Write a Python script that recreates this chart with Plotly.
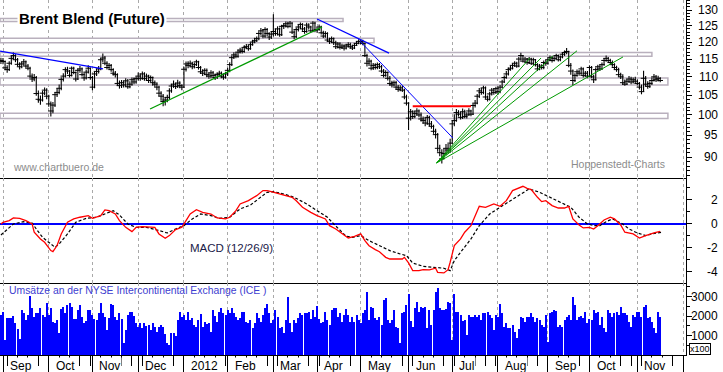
import math
import plotly.graph_objects as go
from plotly.subplots import make_subplots

# ---------------- data (trading-day index: 0 = 1 Sep 2011) ----------------
month_idx = [0, 22, 43, 65, 87, 108, 130, 151, 172, 195, 216, 238, 262, 282, 305, 327]
month_lbl = ['Sep', 'Oct', 'Nov', 'Dec', '2012', 'Feb', 'Mar', 'Apr', 'May', 'Jun',
             'Jul', 'Aug', 'Sep', 'Oct', 'Nov']
first_day = -1

close = [
    # Aug/Sep 2011
    114.6, 114.3, 112.5, 112.0, 113.8, 115.2, 116.0, 114.8, 113.5, 112.8, 113.6, 114.2,
    113.0, 112.4, 110.2, 109.4, 109.8, 105.5, 104.0, 103.8, 105.6, 106.4, 104.8,
    # Oct
    102.8, 101.0, 102.5, 105.2, 105.8, 106.9, 109.3, 110.2, 112.0, 111.6, 110.4, 112.4,
    111.2, 109.4, 111.8, 112.2, 110.6, 109.7, 111.3, 112.4, 109.8,
    # Nov
    107.2, 110.8, 111.5, 112.2, 114.8, 115.3, 113.8, 112.6, 113.2, 112.0, 111.0, 110.6,
    108.2, 107.6, 108.4, 107.8, 108.9, 107.3, 108.0, 109.2, 108.6, 109.5,
    # Dec
    110.2, 109.6, 110.8, 109.5, 110.2, 109.0, 109.8, 108.4, 108.0, 107.2, 105.6, 104.8,
    103.4, 103.8, 104.5, 106.2, 107.5, 108.0, 107.4, 108.3, 107.6, 107.2,
    # Jan 2012
    112.1, 113.6, 113.2, 113.8, 112.8, 113.4, 114.2, 112.6, 111.4, 111.0, 111.8, 110.6,
    110.2, 111.1, 110.4, 109.8, 110.6, 111.0, 110.2, 109.9, 110.8,
    # Feb
    111.8, 113.4, 115.4, 116.2, 115.8, 117.0, 117.6, 117.2, 118.4, 118.6, 118.0, 119.2,
    120.0, 120.4, 121.0, 122.6, 123.4, 121.8, 123.8, 122.6, 121.5, 122.4,
    # Mar
    123.2, 122.6, 124.0, 122.2, 124.8, 125.0, 125.6, 124.8, 125.8, 123.0, 121.6, 123.8,
    124.6, 125.4, 124.0, 123.2, 125.2, 124.6, 123.4, 125.8, 123.6,
    # Apr
    123.8, 124.6, 122.8, 121.8, 122.6, 120.6, 120.2, 121.0, 119.8, 118.6, 119.4, 118.4,
    118.8, 118.2, 118.8, 119.2, 118.6, 118.2, 119.0, 119.6, 120.2,
    # May
    120.2, 119.6, 116.0, 113.8, 114.4, 112.4, 113.2, 112.6, 113.4, 112.8, 111.6, 110.4,
    111.2, 109.6, 108.2, 107.8, 108.4, 107.2, 106.6, 107.0, 106.4, 104.6, 103.0,
    # Jun
    99.2, 100.8, 99.6, 100.4, 101.0, 100.0, 99.0, 98.6, 98.0, 99.4, 97.8, 97.2,
    96.0, 95.2, 92.0, 91.0, 89.6, 90.8, 92.0, 91.6, 93.2,
    # Jul
    97.8, 98.6, 100.6, 100.2, 99.4, 100.8, 99.6, 100.0, 101.0, 100.2, 102.4, 103.0,
    104.8, 106.2, 105.8, 107.0, 104.6, 104.0, 105.4, 106.4, 105.8, 106.8,
    # Aug
    106.0, 107.2, 108.6, 109.8, 110.8, 112.0, 112.4, 113.2, 113.8, 113.0, 115.0, 116.0,
    114.4, 115.0, 114.0, 115.0, 113.8, 114.8, 113.4, 112.2, 113.0, 112.6, 114.0,
    # Sep
    113.8, 114.8, 115.4, 114.6, 115.2, 116.0, 114.8, 115.6, 116.4, 116.9, 117.2, 113.2,
    111.6, 109.0, 110.4, 111.4, 111.0, 112.2, 110.4, 111.0,
    # Oct
    110.2, 112.6, 110.0, 109.2, 112.0, 112.8, 112.2, 113.4, 114.6, 115.2, 114.6, 114.0,
    113.4, 112.6, 112.0, 110.6, 110.0, 108.4, 108.0, 108.8, 109.4, 108.6, 109.2,
    # Nov
    108.8, 108.2, 107.2, 106.0, 109.6, 108.0, 107.4, 108.2, 109.0, 110.0, 109.2, 109.6, 109.0,
]

high = [
    115.4, 115.3, 114.6, 113.2, 114.4, 115.9, 116.9, 116.4, 115.3, 114.1, 114.2, 115.0,
    114.6, 113.6, 112.8, 110.9, 110.8, 110.2, 106.3, 105.0, 106.2, 107.1, 106.9,
    105.2, 103.4, 103.3, 105.8, 106.9, 107.9, 109.9, 111.0, 112.7, 112.8, 111.9, 112.9,
    112.8, 111.5, 112.3, 113.0, 112.6, 111.2, 112.0, 113.2, 112.6,
    110.2, 111.4, 112.3, 113.0, 115.3, 116.6, 115.9, 114.4, 113.9, 113.6, 112.4, 111.6,
    111.0, 109.0, 109.1, 108.9, 109.6, 109.4, 108.8, 109.8, 109.8, 110.1,
    111.2, 110.9, 111.5, 111.3, 110.9, 110.6, 110.4, 110.1, 109.0, 108.5, 107.6, 106.1,
    105.4, 104.6, 105.2, 106.9, 108.1, 109.0, 108.4, 109.2, 108.8, 108.0,
    112.8, 114.3, 114.4, 114.6, 114.2, 114.0, 114.8, 114.5, 113.0, 112.1, 112.4, 112.3,
    111.2, 111.8, 111.6, 110.9, 111.2, 111.7, 111.5, 110.9, 111.4,
    112.5, 114.1, 116.0, 117.0, 116.9, 117.8, 118.3, 118.2, 119.0, 119.4, 119.1, 119.9,
    120.7, 121.3, 121.7, 123.3, 124.3, 123.9, 124.5, 124.3, 123.0, 123.1,
    128.6, 124.1, 124.8, 124.4, 125.3, 125.8, 126.3, 126.2, 126.5, 126.1, 123.6, 124.4,
    125.4, 126.0, 125.8, 124.6, 125.9, 125.8, 125.0, 126.4, 126.2,
    124.5, 125.4, 125.0, 123.4, 123.3, 123.0, 121.3, 121.7, 121.4, 120.4, 120.0, 119.9,
    119.5, 119.3, 119.5, 119.9, 119.8, 119.2, 119.7, 120.3, 120.8,
    120.8, 120.7, 119.8, 116.5, 115.2, 114.8, 113.9, 113.8, 114.0, 113.9, 113.3, 112.2,
    111.8, 111.5, 110.2, 108.9, 109.0, 108.9, 107.8, 107.7, 107.5, 106.8, 105.2,
    103.2, 101.5, 101.2, 101.0, 101.7, 101.4, 100.6, 99.6, 99.3, 100.0, 99.8, 98.5,
    97.6, 96.6, 95.6, 92.8, 91.8, 92.0, 93.0, 93.0, 94.2,
    98.6, 100.2, 101.5, 101.2, 100.8, 101.6, 101.3, 100.7, 101.7, 101.3, 102.9, 103.8,
    105.4, 107.0, 107.0, 107.6, 107.4, 105.0, 106.0, 107.0, 106.9, 107.3,
    107.4, 107.8, 109.2, 110.4, 111.6, 112.6, 113.1, 113.8, 114.4, 114.2, 115.6, 116.8,
    116.2, 115.6, 115.3, 115.6, 115.4, 115.4, 115.0, 113.8, 113.6, 113.5, 114.6,
    114.7, 115.3, 116.0, 115.8, 115.8, 116.5, 116.3, 116.0, 117.0, 117.5, 118.2, 117.4,
    113.9, 112.0, 111.0, 112.0, 111.9, 112.8, 112.6, 111.6,
    111.6, 113.2, 113.0, 110.6, 112.6, 113.4, 113.4, 114.0, 115.3, 116.0, 115.6, 115.1,
    114.6, 113.8, 113.1, 112.5, 111.1, 110.7, 109.3, 109.5, 110.2, 110.0, 109.8,
    110.0, 109.3, 108.6, 107.9, 111.7, 110.2, 108.8, 108.8, 109.8, 110.8, 110.5, 110.3, 109.9,
]

low = [
    113.6, 113.5, 111.8, 111.1, 111.6, 113.4, 114.8, 114.1, 112.9, 112.0, 112.4, 113.1,
    112.5, 111.8, 109.7, 108.6, 108.8, 104.9, 103.1, 102.6, 103.4, 105.1, 104.0,
    102.1, 99.6, 100.4, 102.0, 104.6, 105.3, 106.4, 108.7, 109.8, 110.8, 109.8, 110.1,
    110.7, 108.7, 109.1, 111.1, 110.1, 108.9, 109.3, 110.9, 109.2,
    106.4, 106.9, 110.2, 110.9, 111.8, 114.1, 113.2, 112.0, 112.0, 111.4, 110.4, 109.8,
    107.6, 106.8, 107.0, 107.1, 107.3, 106.8, 106.9, 107.6, 108.0, 108.1,
    109.0, 108.9, 109.2, 108.9, 108.9, 108.3, 108.6, 107.6, 107.3, 106.4, 104.8, 103.6,
    102.2, 102.4, 103.2, 104.0, 105.7, 107.0, 106.7, 107.0, 106.9, 106.4,
    107.0, 111.5, 112.4, 112.7, 112.1, 112.3, 113.0, 112.0, 110.8, 110.2, 110.5, 109.9,
    109.5, 109.6, 109.8, 109.1, 109.4, 110.1, 109.6, 109.2, 109.5,
    110.2, 111.3, 113.0, 115.0, 115.2, 115.4, 116.6, 116.6, 116.8, 117.9, 117.4, 117.7,
    118.9, 119.6, 120.0, 120.5, 122.1, 121.1, 121.2, 121.8, 120.6, 120.9,
    121.7, 121.9, 122.0, 121.6, 121.8, 124.0, 124.4, 124.2, 124.4, 122.4, 120.8, 121.2,
    123.2, 124.0, 123.4, 122.5, 122.8, 123.8, 122.8, 123.0, 123.0,
    122.8, 123.4, 122.3, 121.2, 121.3, 120.1, 119.4, 119.7, 119.1, 117.9, 118.1, 117.8,
    117.9, 117.5, 117.8, 118.4, 118.0, 117.6, 117.9, 118.8, 119.3,
    119.3, 119.0, 115.6, 112.9, 113.0, 111.8, 111.9, 112.0, 112.1, 112.2, 111.0, 109.8,
    110.0, 109.0, 107.6, 107.1, 107.4, 106.6, 106.0, 106.1, 105.9, 104.0, 102.4,
    96.3, 98.6, 99.0, 99.2, 99.8, 99.4, 98.4, 97.8, 97.2, 97.6, 97.2, 96.6,
    95.4, 94.3, 91.2, 90.2, 88.6, 89.6, 90.4, 90.8, 91.0,
    93.0, 97.2, 98.3, 99.6, 98.9, 99.0, 99.2, 99.1, 99.8, 99.7, 100.0, 101.9,
    102.7, 104.3, 105.2, 105.3, 104.1, 103.4, 103.7, 105.0, 105.2, 105.4,
    105.2, 105.6, 106.9, 108.3, 109.5, 110.4, 111.7, 112.0, 112.8, 112.5, 112.7, 114.6,
    114.0, 114.1, 113.4, 113.6, 113.3, 113.5, 112.9, 111.6, 111.8, 112.0, 112.1,
    113.1, 113.4, 114.4, 114.0, 114.3, 114.9, 114.3, 114.4, 115.2, 115.9, 116.4, 112.7,
    110.6, 107.8, 108.6, 110.0, 110.3, 110.6, 109.8, 110.0,
    109.6, 110.0, 109.6, 108.3, 109.0, 111.7, 111.6, 111.9, 113.1, 114.2, 114.0, 113.5,
    112.8, 112.0, 111.4, 110.0, 109.4, 107.8, 107.6, 107.8, 108.4, 108.0, 108.2,
    108.1, 107.7, 106.6, 105.3, 106.0, 107.5, 106.8, 107.0, 107.8, 108.7, 108.6, 108.7, 108.5,
]

volume = [
    2050, 2220, 770, 1880, 1880, 1880, 2020, 1630, 1320, 800,
    2310, 2140, 1800, 2050, 3030, 2400, 1970, 2140, 2140, 2400,
    2050, 1970, 2650, 2050, 2400, 1710, 1630, 1800, 1150, 2340,
    2480, 2140, 2570, 2650, 2480, 1850, 1850, 2310, 2570, 1970,
    1630, 1760, 2310, 2310, 2050, 1850, 1800, 2140, 2650, 2140,
    1970, 1280, 1880, 2600, 2570, 1970, 1800, 2140, 1830, 600,
    1280, 2050, 2220, 2220, 2000, 1630, 1450, 1630, 1370, 1630,
    1510, 1540, 1280, 1630, 1450, 1200, 1450, 1540, 1450, 1080,
    630, 510, 1150, 1110, 980, 1800, 2220, 1970, 2050, 1800,
    2220, 1800, 1880, 1540, 1450, 1800, 2100, 1450, 1710, 1590,
    1630, 1200, 2310, 2000, 1710, 2220, 2400, 2140, 2050, 2310,
    2140, 2400, 2140, 1970, 1800, 1880, 2220, 2190, 1710, 1630,
    1800, 1370, 1630, 2140, 1880, 1710, 2050, 2400, 2620, 2140,
    1630, 1800, 2310, 1970, 1370, 1450, 1150, 1800, 2990, 1630,
    1200, 1800, 1630, 1880, 2140, 2050, 2140, 2170, 2220, 1830,
    2310, 1970, 2510, 1830, 1630, 1710, 2220, 1800, 1540, 2310,
    2400, 2400, 1930, 2140, 1710, 2050, 2340, 2050, 1710, 1970,
    1710, 2050, 1800,
    1630, 2140, 2310, 3250, 1800, 2480, 2400, 1880, 1800, 1970,
    1540, 2820, 2910, 1800, 1630, 1800, 2310, 1450, 1370, 600,
    2140, 2220, 2570, 3160, 1760, 1450, 2400, 2740, 2220, 2450,
    2400, 2480, 1400, 2310, 1540, 2310, 3250, 3420, 2400, 2310,
    2310, 2340, 2740, 2650, 770, 3160, 2220, 2220, 2050, 1760,
    1800, 1030, 2050, 1970, 1970, 2050, 1970, 2050, 1800, 2140,
    2140, 2220, 2050, 1880, 1280, 2050, 1970, 2620, 2140, 1450,
    1630, 1370, 1370, 1540, 1200, 860, 1320, 1970, 1880, 1710,
    1970, 1970, 2140, 1970, 1710, 1880, 1800, 1540, 1450, 2050,
    690, 2140, 2220, 2310, 2280, 1450, 1540, 1450, 1800, 1970,
    2050, 1800, 2990, 2570, 1800, 1970, 2000, 1880, 2220, 1630,
    1850, 1800, 2310, 2140, 2220, 1540, 1970, 1370, 1200, 2310,
    2140, 1970, 2140, 2220, 2050, 2480, 2170, 2140, 2050, 1710,
    1450, 2050, 1970, 2220, 2220, 1970, 2480, 2570, 1880, 1970,
    1710, 1370, 1110, 2220, 1970,
]

macd_day = [-1, 0, 3, 5, 8, 11, 14, 15, 18, 20, 23, 24, 26, 28, 31, 34, 37, 41, 43, 47,
            49, 51, 54, 56, 59, 62, 64, 67, 73, 75, 78, 80, 83, 86, 88, 90, 93, 96, 100, 103,
            107, 109, 112, 114, 118, 122, 125, 127, 129, 133, 136, 139, 141, 144, 148, 151, 155, 157, 160, 164,
            166, 169, 172, 174, 176, 179, 181, 184, 186, 189, 192, 193, 195, 197, 200, 202, 205, 208, 209, 212,
            214, 215, 217, 220, 222, 225, 227, 229, 232, 234, 236, 239, 242, 245, 249, 250, 252, 254, 257, 259,
            261, 264, 267, 270, 272, 274, 277, 279, 282, 284, 286, 289, 292, 294, 297, 299, 303, 306, 309, 311,
            313, 316]
macd_val = [0.0, 0.14, 0.28, 0.5, 0.47, 0.28, 0.0, -0.69, -1.25, -1.53,
            -2.22, -2.3, -1.8, -0.83, 0.14, 0.42, 0.56, 0.69, 0.47, 0.69,
            1.17, 1.11, 0.83, 0.28, -0.28, -0.64, -0.28, -0.22, -0.28, -0.83,
            -1.19, -0.97, -0.47, -0.28, 0.28, 0.83, 1.19, 0.97, 0.83, 0.5,
            0.42, 0.56, 1.11, 1.67, 1.94, 2.36, 2.78, 2.78, 2.69, 2.5,
            2.42, 2.22, 1.94, 1.39, 0.97, 0.69, 0.42, -0.14, -0.42, -0.97,
            -1.17, -1.03, -0.83, -1.39, -1.81, -2.14, -2.31, -2.78, -2.92, -2.92,
            -2.92, -2.78, -3.25, -3.89, -3.89, -3.81, -3.83, -3.69, -4.03, -4.08,
            -3.81, -3.19, -1.81, -1.25, -0.69, -0.14, 0.69, 1.47, 1.39, 1.53,
            1.67, 1.47, 1.94, 2.78, 3.11, 3.14, 2.97, 2.86, 2.22, 1.86,
            1.94, 1.53, 1.33, 1.33, 1.47, 0.42, -0.08, -0.33, -0.28, -0.42,
            -0.14, 0.33, 0.56, 0.42, -0.08, -0.69, -0.83, -1.17, -0.97, -0.89,
            -0.75, -0.61]

signal_day = [-1, 2, 5, 10, 14, 16, 19, 23, 25, 27, 31, 35, 40, 45, 50, 53, 56, 60, 64, 69,
              74, 79, 83, 87, 91, 95, 100, 104, 109, 114, 119, 124, 127, 130, 135, 140, 146, 151, 156, 159,
              162, 165, 168, 172, 176, 181, 186, 191, 194, 197, 202, 207, 212, 215, 217, 220, 225, 229, 234, 239,
              244, 249, 253, 258, 263, 268, 273, 277, 281, 284, 287, 290, 293, 298, 301, 305, 309, 312, 317]
signal_val = [-0.92, -0.42, 0.0, 0.19, 0.08, -0.42, -1.11, -1.67, -1.94, -1.67,
              -0.83, 0.14, 0.47, 0.56, 0.92, 1.11, 0.75, 0.0, -0.28, -0.28,
              -0.5, -0.75, -0.42, -0.14, 0.42, 0.83, 0.69, 0.47, 0.56, 1.25,
              1.58, 2.22, 2.64, 2.69, 2.5, 2.22, 1.67, 1.11, 0.56, 0.0,
              -0.56, -1.03, -1.11, -0.97, -1.39, -1.81, -2.22, -2.5, -2.64, -3.25,
              -3.53, -3.61, -3.69, -3.89, -3.06, -2.36, -1.25, -0.14, 0.83, 1.39,
              1.94, 2.5, 2.92, 2.64, 2.22, 1.81, 1.39, 0.56, 0.0, -0.14,
              -0.14, 0.19, 0.42, 0.0, -0.42, -0.75, -0.97, -0.83, -0.69]

# drawn chart objects (day index, price)
zones = [  # (from day, to day, low price, high price)
    (-1.44, 163.5, 126.3, 127.3),
    (-1.44, 178.4, 119.8, 121.1),
    (-1.44, 312.0, 115.8, 116.9),
    (-1.44, 319.7, 107.8, 109.7),
    (-1.44, 319.7, 99.1, 100.4),
]
trend_lines = [  # (day0, price0, day1, price1, colour, width)
    (-1.44, 117.3, 48.1, 112.2, '#0000ff', 1.3),
    (70.7, 101.5, 153.4, 124.6, '#009a00', 1.3),
    (151.0, 127.1, 185.6, 116.7, '#0000ff', 1.3),
    (171.6, 120.3, 216.3, 94.4, '#0000ff', 1.0),
    (197.0, 102.2, 225.0, 102.2, '#ff0000', 1.8),
]
fan_origin = (208.5, 88.7)
fan_ends = [(253.4, 115.3), (258.7, 115.3), (264.4, 115.9), (276.0, 117.4), (298.1, 115.6)]

price_ticks = [90, 95, 100, 105, 110, 115, 120, 125, 130]
macd_ticks = [2, 0, -2, -4]
vol_ticks = [1000, 2000, 3000]

# ---------------- figure ----------------
days = list(range(first_day, first_day + len(close)))
X_RANGE = [-1.443, 328.4]
H_PRICE, H_MACD, H_VOL = 178, 105, 72
H_TOT = H_PRICE + H_MACD + H_VOL

fig = make_subplots(rows=3, cols=1, shared_xaxes=True, vertical_spacing=0,
                    row_heights=[H_PRICE, H_MACD, H_VOL])

# zones
for (d0, d1, lo, hi) in zones:
    fig.add_trace(go.Scatter(x=[d0, d1, d1, d0, d0], y=[lo, lo, hi, hi, lo], mode='lines',
                             line=dict(color='#b9b0bd', width=1.5), hoverinfo='skip',
                             showlegend=False), row=1, col=1)

# price bars
fig.add_trace(go.Scatter(
    x=days, y=close, mode='markers',
    marker=dict(symbol='line-ew', size=4, color='black', line=dict(width=1.0, color='black')),
    error_y=dict(type='data', symmetric=False,
                 array=[h - c for h, c in zip(high, close)],
                 arrayminus=[c - l for c, l in zip(close, low)],
                 width=0, thickness=1.1, color='black'),
    showlegend=False, hoverinfo='skip'), row=1, col=1)

# trend lines
for (d0, p0, d1, p1, col, w) in trend_lines:
    fig.add_trace(go.Scatter(x=[d0, d1], y=[p0, p1], mode='lines',
                             line=dict(color=col, width=w), showlegend=False,
                             hoverinfo='skip'), row=1, col=1)
for (d1, p1) in fan_ends:
    fig.add_trace(go.Scatter(x=[fan_origin[0], d1], y=[fan_origin[1], p1], mode='lines',
                             line=dict(color='#009a00', width=1.0), showlegend=False,
                             hoverinfo='skip'), row=1, col=1)

# MACD
fig.add_trace(go.Scatter(x=signal_day, y=signal_val, mode='lines',
                         line=dict(color='black', width=1.2, dash='3px,2px'),
                         showlegend=False, hoverinfo='skip'), row=2, col=1)
fig.add_trace(go.Scatter(x=macd_day, y=macd_val, mode='lines',
                         line=dict(color='#ff0000', width=1.3),
                         showlegend=False, hoverinfo='skip'), row=2, col=1)

# volume
fig.add_trace(go.Bar(x=days, y=volume, width=0.5, marker=dict(color='#0000ff', line=dict(width=0)),
                     showlegend=False, hoverinfo='skip'), row=3, col=1)

font_main = 'Liberation Sans, Arial, sans-serif'
xcommon = dict(range=X_RANGE, tickmode='array', tickvals=month_idx, showticklabels=False,
               showgrid=True, gridcolor='#a9a9a9', griddash='3px,3px', gridwidth=1,
               zeroline=False, showline=True, linecolor='black', linewidth=1)
fig.update_xaxes(**xcommon, ticks='', row=1, col=1)
fig.update_xaxes(**xcommon, ticks='', row=2, col=1)
fig.update_xaxes(**xcommon, ticks='outside', ticklen=17, tickcolor='black', tickwidth=1,
                 minor=dict(tickmode='array', tickvals=list(range(2, 328, 5)), ticks='outside',
                            ticklen=10, tickcolor='black', tickwidth=1, showgrid=False),
                 row=3, col=1)

ycommon = dict(side='right', showline=True, linecolor='black', linewidth=1, ticks='outside',
               tickcolor='black', tickwidth=1, showticklabels=False, showgrid=False)
fig.update_yaxes(**ycommon, type='log', range=[1.93156, 2.12480], tickmode='array',
                 tickvals=price_ticks, ticklen=5, zeroline=False,
                 minor=dict(tickmode='array', tickvals=list(range(86, 134)), ticks='outside',
                            ticklen=3, tickcolor='black', showgrid=False),
                 row=1, col=1)
fig.update_yaxes(**ycommon, range=[-4.92, 3.83], tickmode='array', tickvals=macd_ticks, ticklen=5,
                 zeroline=True, zerolinecolor='#0000ff', zerolinewidth=1.5,
                 minor=dict(tickmode='array', tickvals=[-5, -3, -1, 1, 3], ticks='outside',
                            ticklen=3, tickcolor='black', showgrid=False),
                 row=2, col=1)
fig.update_yaxes(**ycommon, range=[0, 3700], tickmode='array', tickvals=vol_ticks, ticklen=5,
                 zeroline=False,
                 minor=dict(tickmode='array', tickvals=[500, 1500, 2500, 3500], ticks='outside',
                            ticklen=3, tickcolor='black', showgrid=False),
                 row=3, col=1)

d_price = [1 - H_PRICE / H_TOT, 1]
d_macd = [H_VOL / H_TOT, 1 - H_PRICE / H_TOT]
d_vol = [0, H_VOL / H_TOT]
fig.update_layout(yaxis=dict(domain=d_price), yaxis2=dict(domain=d_macd), yaxis3=dict(domain=d_vol))


def py(pix):  # pixel row (from top of plot area) -> paper y
    return (H_TOT - pix) / H_TOT


PLOT_W = 686
ann = []
tick_font = dict(family=font_main, size=12, color='black')
for v in price_ticks:
    ann.append(dict(xref='paper', yref='y', x=1, y=math.log10(v), xanchor='right', yanchor='middle',
                    xshift=34, text=str(v), showarrow=False, font=tick_font))
for v in macd_ticks:
    ann.append(dict(xref='paper', yref='y2', x=1, y=v, xanchor='right', yanchor='middle',
                    xshift=34, text=str(v), showarrow=False, font=tick_font))
for v in vol_ticks:
    ann.append(dict(xref='paper', yref='y3', x=1, y=v, xanchor='right', yanchor='middle',
                    xshift=34, text=str(v), showarrow=False, font=tick_font))
for m, lbl in zip(month_idx, month_lbl):
    ann.append(dict(xref='x3', yref='paper', x=m, y=py(365.5), xanchor='left', yanchor='middle',
                    xshift=5, text=lbl, showarrow=False, bgcolor='white', borderpad=1,
                    font=dict(family=font_main, size=12, color='black')))

ann.append(dict(xref='paper', yref='paper', x=17 / PLOT_W, y=py(18.7), xanchor='left',
                yanchor='middle', text='<b>Brent Blend (Future)</b>', showarrow=False,
                bgcolor='white', borderpad=1, font=dict(family=font_main, size=15, color='black')))
ann.append(dict(xref='paper', yref='paper', x=11 / PLOT_W, y=py(166.5), xanchor='left',
                yanchor='middle', text='www.chartbuero.de', showarrow=False,
                font=dict(family=font_main, size=10.5, color='#8c8c8c')))
ann.append(dict(xref='paper', yref='paper', x=667 / PLOT_W, y=py(164), xanchor='right',
                yanchor='middle', text='Hoppenstedt-Charts', showarrow=False,
                font=dict(family=font_main, size=10.5, color='#8c8c8c')))
ann.append(dict(xref='paper', yref='paper', x=188 / PLOT_W, y=py(247.7), xanchor='left',
                yanchor='middle', text='MACD (12/26/9)', showarrow=False,
                font=dict(family=font_main, size=11.5, color='#202048')))
ann.append(dict(xref='paper', yref='paper', x=7 / PLOT_W, y=py(290), xanchor='left',
                yanchor='middle', text='Umsätze an der NYSE Intercontinental Exchange (ICE )',
                showarrow=False, font=dict(family=font_main, size=10.4, color='#4040d0')))
ann.append(dict(xref='paper', yref='paper', x=1, y=py(348.5), xanchor='left', yanchor='middle',
                xshift=3, text='x100', showarrow=False, bgcolor='white', bordercolor='black',
                borderwidth=1, borderpad=0, font=dict(family=font_main, size=9, color='black')))

fig.update_layout(
    width=723, height=372, autosize=False,
    margin=dict(l=0, r=723 - PLOT_W, t=0, b=372 - H_TOT, pad=0),
    paper_bgcolor='white', plot_bgcolor='white',
    font=dict(family=font_main, size=12, color='black'),
    showlegend=False, bargap=0, annotations=ann,
)

fig.write_html("out.html", config={'displayModeBar': False},
               post_script="document.body.style.margin='0px';document.body.style.padding='0px';")
